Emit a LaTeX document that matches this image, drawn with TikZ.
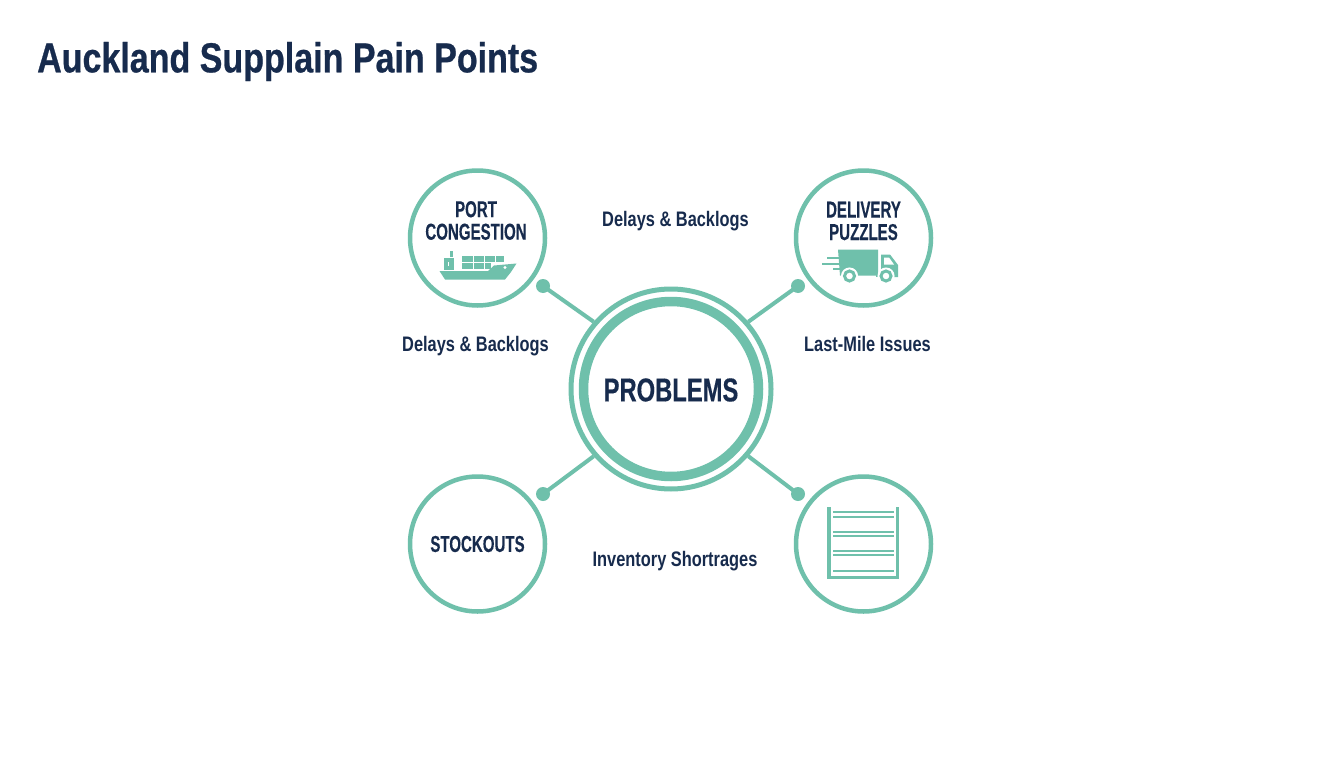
\documentclass[tikz,border=0pt]{standalone}
\usepackage{fontspec}
\setmainfont{Liberation Sans}
\newfontfamily\titlef[FakeStretch=0.81,BoldFeatures={FakeBold=0.6}]{Liberation Sans}
\newfontfamily\probf[FakeStretch=0.72,BoldFeatures={FakeBold=0.4}]{Liberation Sans}
\newfontfamily\headf[FakeStretch=0.655,BoldFeatures={FakeBold=0.3}]{Liberation Sans}
\newfontfamily\lblf[FakeStretch=0.78]{Liberation Sans}
\definecolor{teal}{HTML}{6FC0AB}
\definecolor{navy}{HTML}{172B4D}
\tikzset{
 ringsmall/.style={circle,draw=teal,line width=4.5pt,minimum size=135pt,inner sep=0pt,fill=white},
 conn/.style={draw=teal,line width=4pt},
 knob/.style={circle,fill=teal,minimum size=14pt,inner sep=0pt},
 lbl/.style={text=navy,font=\lblf\bfseries\fontsize{21}{22}\selectfont,align=center,inner sep=0pt},
 head/.style={text=navy,font=\headf\bfseries\fontsize{23}{22.5}\selectfont,align=center,inner sep=0pt},
 iconfill/.style={fill=teal,draw=none},
 shelfline/.style={draw=teal,line width=1.9pt},
 shelfpost/.style={draw=teal,line width=3.2pt},
}
\begin{document}
\begin{tikzpicture}[x=1pt,y=-1pt]
\useasboundingbox (0,0) rectangle (1344,768);
\fill[white] (0,0) rectangle (1344,768);
\node[text=navy,font=\titlef\bfseries\fontsize{42}{44}\selectfont,anchor=west,inner sep=0pt] (title) at (37,61.5) {Auckland Supplain Pain Points};

\node[circle,draw=teal,line width=5pt,minimum size=200pt,inner sep=0pt] (outer) at (671,389) {};
\node[circle,draw=teal,line width=9.5pt,minimum size=175pt,inner sep=0pt] (inner) at (671,389) {};
\node[text=navy,font=\probf\bfseries\fontsize{33}{36}\selectfont,inner sep=0pt] (prob) at (671,390) {PROBLEMS};

\node[ringsmall] (tl) at (477.5,238) {};
\node[ringsmall] (tr) at (863.5,238) {};
\node[ringsmall] (bl) at (477.5,544) {};
\node[ringsmall] (br) at (863.5,544) {};

\node[knob] (ktl) at (543,286) {};
\node[knob] (ktr) at (798,286) {};
\node[knob] (kbl) at (543,494) {};
\node[knob] (kbr) at (798,494) {};
\draw[conn] (ktl.center) -- (outer.139);
\draw[conn] (ktr.center) -- (outer.41);
\draw[conn] (kbl.center) -- (outer.221);
\draw[conn] (kbr.center) -- (outer.319);

\node[head] (t1) at (476,220.5) {PORT\\CONGESTION};
\node[head] (t2) at (863.5,221) {DELIVERY\\PUZZLES};
\node[head] (t3) at (477.5,544) {STOCKOUTS};
\node[lbl] (l1) at (675.5,221) {Delays \& Backlogs};
\node[lbl] (l2) at (475.5,346.5) {Delays \& Backlogs};
\node[lbl] (l3) at (867.5,344) {Last-Mile Issues};
\node[lbl] (l4) at (675,561) {Inventory Shortrages};

% ship
\fill[iconfill] (439.5,271) -- (488,271) -- (494,265.5) -- (516.5,263.5) -- (511,272) -- (505,279.5) -- (445,279.5) -- cycle;
\fill[iconfill] (444,258) rectangle (454,262);
\fill[iconfill] (449,262) rectangle (454,269.5);
\fill[iconfill] (444,262) rectangle (447.5,269.5);
\fill[iconfill] (444,265.5) rectangle (454,269.5);
\fill[iconfill] (450,251) rectangle (452.5,257);
\foreach \xa/\xb in {462/472.5,473.5/484,485/494.5,495.5/504}
  \fill[iconfill] (\xa,255.5) rectangle (\xb,261.5);
\foreach \xa/\xb in {462/472.5,473.5/484,485/491}
  \fill[iconfill] (\xa,262.5) rectangle (\xb,268.5);
\fill[white] (505,267.5) circle (1.6);

% truck
\fill[iconfill] (838,249.5) -- (878,249.5) -- (878,275.5) -- (840,275.5) -- cycle;
\fill[iconfill] (881,254.5) -- (890,254.5) -- (898,265) -- (898,277) -- (881,277) -- cycle;
\fill[iconfill] (876,273) rectangle (882,277);
\fill[white] (884,257.5) -- (889,257.5) -- (894,264.5) -- (884,264.5) -- cycle;
\fill[iconfill] (827,256.5) rectangle (842,258.5);
\fill[iconfill] (821.5,262.5) rectangle (844,264.5);
\fill[iconfill] (833,268) rectangle (846,270);
\filldraw[fill=white,draw=white,line width=5pt] (849.5,276) circle (6);
\filldraw[fill=white,draw=white,line width=5pt] (886,276) circle (6);
\filldraw[fill=white,draw=teal,line width=3pt] (849.5,276) circle (5);
\filldraw[fill=white,draw=teal,line width=3pt] (886,276) circle (5);

% shelf
\draw[shelfpost] (829,507) -- (829,577.5) -- (897.5,577.5) -- (897.5,507);
\foreach \yy in {512,517,532,536,551,555,571}
 \draw[shelfline] (833,\yy) -- (894,\yy);
\end{tikzpicture}
\end{document}
